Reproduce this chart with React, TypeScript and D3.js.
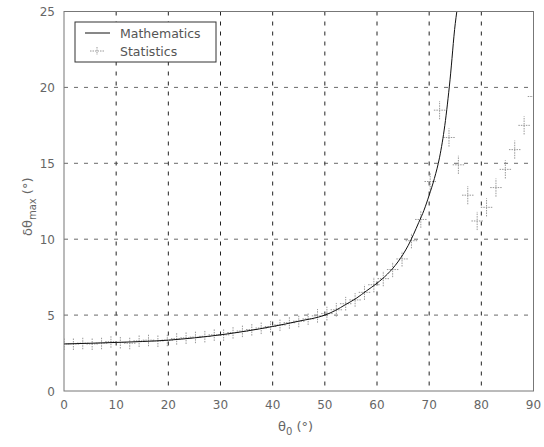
import React from "react";
import * as d3 from "d3";

const mathTheta = [0, 10, 20, 30, 40, 45, 50, 52, 54, 56, 58, 60, 62, 64, 66, 68, 69, 70, 71, 72, 73, 74, 75, 75.3];
const mathValue = [3.1, 3.2, 3.35, 3.7, 4.25, 4.6, 5.0, 5.3, 5.7, 6.1, 6.6, 7.1, 7.7, 8.5, 9.6, 11.1, 11.9, 12.9, 14.0, 15.4, 17.5, 20.5, 24.2, 25];

const statTheta = [0, 1.8, 3.6, 5.4, 7.2, 9.0, 10.8, 12.6, 14.4, 16.2, 18.0, 19.8, 21.6, 23.4, 25.2, 27.0, 28.8, 30.6, 32.4, 34.2, 36.0, 37.8, 39.6, 41.4, 43.2, 45.0, 46.8, 48.6, 50.4, 52.2, 54.0, 55.8, 57.6, 59.4, 61.2, 63.0, 64.8, 66.6, 68.4, 70.2, 72.0, 73.8, 75.6, 77.4, 79.2, 81.0, 82.8, 84.6, 86.4, 88.2, 90.0];
const statValue = [3.1, 3.1, 3.15, 3.1, 3.15, 3.25, 3.2, 3.15, 3.3, 3.35, 3.3, 3.35, 3.45, 3.5, 3.55, 3.6, 3.7, 3.7, 3.85, 3.95, 4.05, 4.15, 4.25, 4.35, 4.5, 4.6, 4.75, 4.95, 5.1, 5.35, 5.75, 6.0, 6.5, 7.0, 7.4, 8.0, 8.7, 9.9, 11.3, 13.8, 18.5, 16.7, 14.9, 12.9, 11.2, 12.1, 13.4, 14.6, 15.9, 17.5, 19.4];
const statXErr = statTheta.map(() => 1.1);
const statYErr = [0.4, 0.4, 0.4, 0.4, 0.4, 0.4, 0.4, 0.4, 0.4, 0.4, 0.4, 0.4, 0.4, 0.4, 0.4, 0.4, 0.4, 0.4, 0.4, 0.4, 0.4, 0.4, 0.4, 0.4, 0.4, 0.4, 0.4, 0.45, 0.45, 0.45, 0.45, 0.45, 0.5, 0.5, 0.5, 0.5, 0.5, 0.5, 0.55, 0.55, 0.6, 0.6, 0.6, 0.6, 0.6, 0.6, 0.6, 0.6, 0.6, 0.6, 0.6];

const xTicks = [0, 10, 20, 30, 40, 50, 60, 70, 80, 90];
const yTicks = [0, 5, 10, 15, 20, 25];

const W = 544, H = 447;
const M = { left: 64, right: 533.5, top: 11.5, bottom: 391 };

export default function App() {
  const x = d3.scaleLinear().domain([0, 90]).range([M.left, M.right]);
  const y = d3.scaleLinear().domain([0, 25]).range([M.bottom, M.top]);
  const line = d3
    .line<number>()
    .x((_, i) => x(mathTheta[i]))
    .y((_, i) => y(mathValue[i]))
    .curve(d3.curveMonotoneX);
  const font = "'DejaVu Sans', sans-serif";
  const grey = "#999";
  return (
    <svg width={W} height={H} style={{ position: "absolute", left: 0, top: 0, background: "#fff" }} fontFamily={font}>
      <defs>
        <clipPath id="plot">
          <rect x={M.left} y={M.top} width={M.right - M.left} height={M.bottom - M.top} />
        </clipPath>
      </defs>
      {/* grid */}
      {xTicks.slice(1, -1).map((t) => (
        <line key={"gx" + t} x1={x(t)} x2={x(t)} y1={M.top} y2={M.bottom} stroke="#222" strokeWidth={1} strokeDasharray="4,6" />
      ))}
      {yTicks.slice(1, -1).map((t) => (
        <line key={"gy" + t} x1={M.left} x2={M.right} y1={y(t)} y2={y(t)} stroke="#444" strokeWidth={0.8} strokeDasharray="4,6" />
      ))}
      {/* stats */}
      <g clipPath="url(#plot)" stroke={grey} strokeWidth={1} strokeDasharray="1.5,1">
        {statTheta.map((t, i) => (
          <g key={"s" + i}>
            <line x1={x(t - statXErr[i])} x2={x(t + statXErr[i])} y1={y(statValue[i])} y2={y(statValue[i])} />
            <line x1={x(t)} x2={x(t)} y1={y(statValue[i] - statYErr[i])} y2={y(statValue[i] + statYErr[i])} />
          </g>
        ))}
      </g>
      {/* math */}
      <path d={line(mathTheta) || ""} fill="none" stroke="#111" strokeWidth={1} clipPath="url(#plot)" />
      {/* frame */}
      <rect x={M.left} y={M.top} width={M.right - M.left} height={M.bottom - M.top} fill="none" stroke="#777" strokeWidth={1} />
      {/* tick labels */}
      {xTicks.map((t) => (
        <text key={"tx" + t} x={x(t)} y={409} textAnchor="middle" fontSize={12} fill="#666">{t}</text>
      ))}
      {yTicks.map((t) => (
        <text key={"ty" + t} x={55} y={y(t) + 4.5} textAnchor="end" fontSize={12} fill="#666">{t}</text>
      ))}
      {/* axis labels */}
      <text x={278} y={431} fontSize={13} fill="#666">
        θ<tspan fontSize={10} dy={4}>0</tspan><tspan dy={-4}> (°)</tspan>
      </text>
      <text transform="translate(32,236) rotate(-90)" fontSize={13} fill="#666">
        δθ<tspan fontSize={10} dy={4}>max</tspan><tspan dy={-4}> (°)</tspan>
      </text>
      {/* legend */}
      <rect x={75} y={22} width={141} height={40} fill="#fff" stroke="#333" strokeWidth={1} />
      <line x1={85} x2={110} y1={33} y2={33} stroke="#111" strokeWidth={1} />
      <text x={120} y={38} fontSize={12.5} fill="#555">Mathematics</text>
      <g stroke={grey} strokeDasharray="1.5,1">
        <line x1={90} x2={104} y1={51} y2={51} />
        <line x1={97} x2={97} y1={47} y2={55} />
      </g>
      <text x={120} y={56} fontSize={12.5} fill="#555">Statistics</text>
    </svg>
  );
}
